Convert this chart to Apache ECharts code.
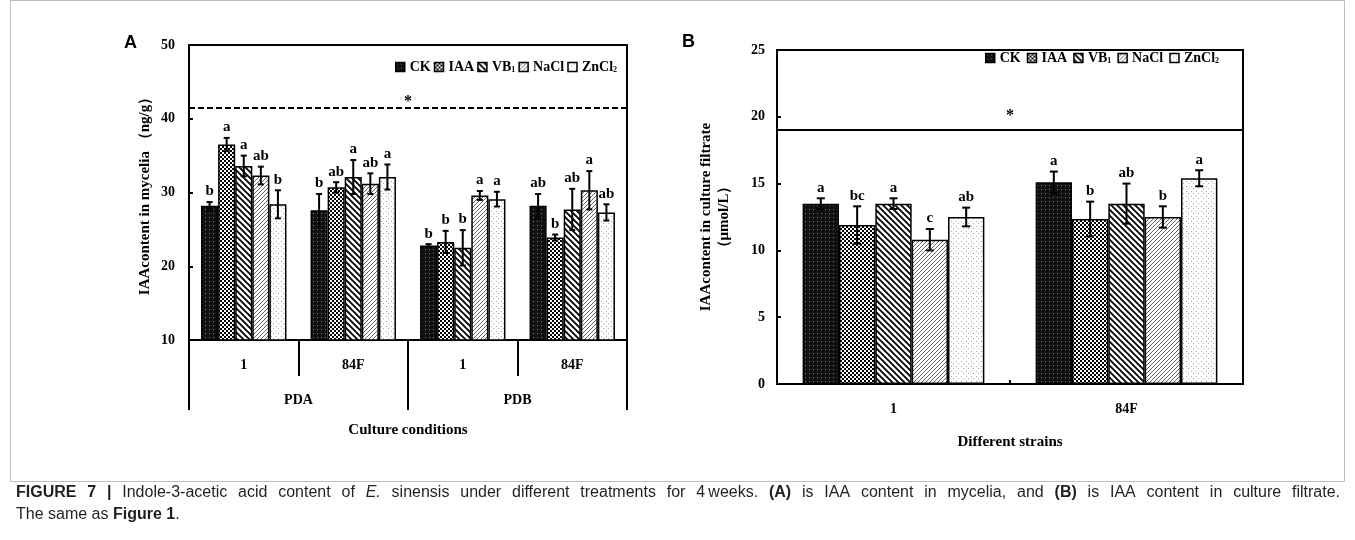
<!DOCTYPE html>
<html><head><meta charset="utf-8">
<script src="https://cdn.jsdelivr.net/npm/echarts@6/dist/echarts.min.js"></script>
<style>html,body{margin:0;padding:0;background:#fff}#c{width:1355px;height:540px}</style>
</head><body><div id="c"></div>
<script>
// ---------- data ----------
const seriesNames = ['CK', 'IAA', 'VB1', 'NaCl', 'ZnCl2'];
const catsA = ['1', '84F', '1', '84F'];
const groupsA = ['PDA', 'PDB'];
const catsB = ['1', '84F'];

const A_CK = [28.2, 27.6, 22.8, 28.2];
const A_IAA = [36.5, 30.7, 23.3, 23.9];
const A_VB1 = [33.6, 32.1, 22.5, 27.7];
const A_NaCl = [32.3, 31.2, 29.6, 30.3];
const A_ZnCl2 = [28.4, 32.1, 29.1, 27.3];
const A_errCK = [0.5, 2.2, 0.2, 1.6];
const A_errIAA = [0.9, 0.7, 1.5, 0.4];
const A_errVB1 = [1.4, 2.3, 2.4, 2.8];
const A_errNaCl = [1.2, 1.4, 0.6, 2.6];
const A_errZnCl2 = [1.9, 1.7, 1.0, 1.1];
const A_letCK = ['b', 'b', 'b', 'ab'];
const A_letIAA = ['a', 'ab', 'b', 'b'];
const A_letVB1 = ['a', 'a', 'b', 'ab'];
const A_letNaCl = ['ab', 'ab', 'a', 'a'];
const A_letZnCl2 = ['b', 'a', 'a', 'ab'];
const A_refLine = 41.5;

const B_CK = [13.5, 15.1];
const B_IAA = [11.9, 12.35];
const B_VB1 = [13.5, 13.5];
const B_NaCl = [10.8, 12.5];
const B_ZnCl2 = [12.5, 15.4];
const B_errCK = [0.4, 0.8];
const B_errIAA = [1.4, 1.3];
const B_errVB1 = [0.4, 1.5];
const B_errNaCl = [0.8, 0.8];
const B_errZnCl2 = [0.7, 0.6];
const B_letCK = ['a', 'a'];
const B_letIAA = ['bc', 'b'];
const B_letVB1 = ['a', 'ab'];
const B_letNaCl = ['c', 'b'];
const B_letZnCl2 = ['ab', 'a'];
const B_refLine = 19;

const captionLine1 = [['FIGURE', 'b'], ['7', 'b'], ['|', 'b'], ['Indole-3-acetic', 'n'], ['acid', 'n'], ['content', 'n'], ['of', 'n'], ['E.', 'i'], ['sinensis', 'n'], ['under', 'n'], ['different', 'n'], ['treatments', 'n'], ['for', 'n'], ['4\u2009weeks.', 'n'], ['(A)', 'b'], ['is', 'n'], ['IAA', 'n'], ['content', 'n'], ['in', 'n'], ['mycelia,', 'n'], ['and', 'n'], ['(B)', 'b'], ['is', 'n'], ['IAA', 'n'], ['content', 'n'], ['in', 'n'], ['culture', 'n'], ['filtrate.', 'n']];
const captionLine2 = 'The same as {b|Figure 1}.';

// ---------- patterns ----------
function pat(kind) {
  const c = document.createElement('canvas');
  let s = 4;
  if (kind === 'VB1') s = 6;
  if (kind === 'ZnCl2') s = 5;
  c.width = s; c.height = s;
  const g = c.getContext('2d');
  g.fillStyle = '#fff'; g.fillRect(0, 0, s, s);
  if (kind === 'CK') {
    g.fillStyle = '#111'; g.fillRect(0, 0, s, s);
    g.fillStyle = '#777'; g.fillRect(1, 1, 1, 1);
  } else if (kind === 'IAA') {
    g.fillStyle = '#000'; g.fillRect(0, 0, 2, 2); g.fillRect(2, 2, 2, 2);
  } else if (kind === 'VB1') {
    g.strokeStyle = '#000'; g.lineWidth = 1.8;
    g.beginPath();
    g.moveTo(-1, -1); g.lineTo(s + 1, s + 1);
    g.moveTo(-1, s - 1); g.lineTo(1, s + 1);
    g.moveTo(s - 1, -1); g.lineTo(s + 1, 1);
    g.stroke();
  } else if (kind === 'NaCl') {
    g.strokeStyle = '#666'; g.lineWidth = 1;
    g.beginPath();
    g.moveTo(-1, s + 1); g.lineTo(s + 1, -1);
    g.moveTo(-1, 1); g.lineTo(1, -1);
    g.moveTo(s - 1, s + 1); g.lineTo(s + 1, s - 1);
    g.stroke();
  } else if (kind === 'ZnCl2') {
    g.fillStyle = '#aaa'; g.fillRect(1, 1, 1, 1); g.fillRect(3, 3, 1, 1);
  }
  return { image: c, repeat: 'repeat' };
}
const patterns = seriesNames.map(pat);

const SERIF = '"Liberation Serif", "Times New Roman", serif';
const SANS = '"Liberation Sans", Arial, sans-serif';
const CAT_GAP = 0.22;

const valsA = [A_CK, A_IAA, A_VB1, A_NaCl, A_ZnCl2];
const errsA = [A_errCK, A_errIAA, A_errVB1, A_errNaCl, A_errZnCl2];
const letsA = [A_letCK, A_letIAA, A_letVB1, A_letNaCl, A_letZnCl2];
const valsB = [B_CK, B_IAA, B_VB1, B_NaCl, B_ZnCl2];
const errsB = [B_errCK, B_errIAA, B_errVB1, B_errNaCl, B_errZnCl2];
const letsB = [B_letCK, B_letIAA, B_letVB1, B_letNaCl, B_letZnCl2];

function errItems(vals, errs, lets) {
  const items = [];
  vals.forEach((arr, si) => arr.forEach((v, ci) => {
    items.push({ value: [ci, v, si, errs[si][ci]], letter: lets[si][ci] });
  }));
  return items;
}
const errA = errItems(valsA, errsA, letsA);
const errB = errItems(valsB, errsB, letsB);

function makeRender(items, cap) {
  return function (params, api) {
    const it = items[params.dataIndex];
    const ci = it.value[0], v = it.value[1], si = it.value[2], e = it.value[3];
    const band = api.size([1, 0])[0];
    const bw = band * (1 - CAT_GAP) / 5;
    const c = api.coord([ci, v]);
    const x = c[0] + (si - 2) * bw;
    const yt = api.coord([ci, v + e])[1];
    const yb = api.coord([ci, v - e])[1];
    const st = { stroke: '#000', lineWidth: 2 };
    return {
      type: 'group',
      children: [
        { type: 'line', shape: { x1: x, y1: yt, x2: x, y2: yb }, style: st },
        { type: 'line', shape: { x1: x - cap, y1: yt, x2: x + cap, y2: yt }, style: st },
        { type: 'line', shape: { x1: x - cap, y1: yb, x2: x + cap, y2: yb }, style: st },
        { type: 'text', x: x, y: yt - 3, style: { text: it.letter, fill: '#000', font: 'bold 15px ' + SERIF, textAlign: 'center', textVerticalAlign: 'bottom' } }
      ]
    };
  };
}

function legendFmt(n) {
  if (n === 'VB1') return 'VB{s|1}';
  if (n === 'ZnCl2') return 'ZnCl{s|2}';
  return n;
}
const legendText = {
  fontFamily: SERIF, fontWeight: 'bold', fontSize: 14, color: '#000',
  rich: { s: { fontFamily: SERIF, fontSize: 8, fontWeight: 'bold', verticalAlign: 'bottom', padding: [6, 0, 0, 0] } }
};

// justified caption line
const CAP_SIZE = 16;
const mctx = document.createElement('canvas').getContext('2d');
function measure(t, st) {
  mctx.font = (st === 'i' ? 'italic ' : '') + (st === 'b' ? 'bold ' : '') + CAP_SIZE + 'px ' + SANS;
  return mctx.measureText(t).width;
}
const CAP_WIDTH = 1324;
const wordsW = captionLine1.reduce((s, w) => s + measure(w[0], w[1]), 0);
const spW = Math.max(4, (CAP_WIDTH - wordsW) / (captionLine1.length - 1));
const captionText1 = captionLine1.map(w => '{' + w[1] + '|' + w[0] + '}').join('{sp|\u00a0}');
const capRich = {
  b: { fontWeight: 'bold', fontFamily: SANS, fontSize: CAP_SIZE, fill: '#231f20' },
  i: { fontStyle: 'italic', fontFamily: SANS, fontSize: CAP_SIZE, fill: '#231f20' },
  n: { fontFamily: SANS, fontSize: CAP_SIZE, fill: '#231f20' },
  sp: { fontFamily: SANS, fontSize: CAP_SIZE, width: spW }
};

const tickLabel = { fontFamily: SERIF, fontWeight: 'bold', fontSize: 14, color: '#000' };
const nameStyle = { fontFamily: SERIF, fontWeight: 'bold', fontSize: 15, color: '#000' };
const blackLine = { color: '#000', width: 2 };

const series = [];
seriesNames.forEach((n, si) => {
  const sa = {
    name: n, type: 'bar', xAxisIndex: 0, yAxisIndex: 0, data: valsA[si],
    barGap: '0%', barCategoryGap: (CAT_GAP * 100) + '%',
    itemStyle: { color: patterns[si], borderColor: '#000', borderWidth: 1.5 }
  };
  const sb = {
    name: n, type: 'bar', xAxisIndex: 2, yAxisIndex: 1, data: valsB[si],
    barGap: '0%', barCategoryGap: (CAT_GAP * 100) + '%',
    itemStyle: { color: patterns[si], borderColor: '#000', borderWidth: 1.5 }
  };
  if (si === 0) {
    sa.markLine = {
      silent: true, symbol: 'none',
      lineStyle: { type: [6, 3], color: '#000', width: 2 },
      label: { formatter: '*', position: 'insideMiddleTop', fontFamily: SERIF, fontWeight: 'bold', fontSize: 16, color: '#000', distance: -2 },
      data: [{ yAxis: A_refLine }]
    };
    sb.markLine = {
      silent: true, symbol: 'none',
      lineStyle: { type: 'solid', color: '#000', width: 2 },
      label: { formatter: '*', position: 'insideMiddleTop', fontFamily: SERIF, fontWeight: 'bold', fontSize: 16, color: '#000', distance: 6 },
      data: [{ yAxis: B_refLine }]
    };
  }
  series.push(sa, sb);
});
series.push({ type: 'custom', xAxisIndex: 0, yAxisIndex: 0, z: 5, renderItem: makeRender(errA, 3), data: errA.map(d => d.value) });
series.push({ type: 'custom', xAxisIndex: 2, yAxisIndex: 1, z: 5, renderItem: makeRender(errB, 4), data: errB.map(d => d.value) });

const option = {
  animation: false,
  backgroundColor: '#fff',
  grid: [
    { left: 189, top: 45, width: 438, height: 295, show: true, borderColor: '#000', borderWidth: 2, outerBoundsMode: 'none', containLabel: false },
    { left: 777, top: 50, width: 466, height: 334, show: true, borderColor: '#000', borderWidth: 2, outerBoundsMode: 'none', containLabel: false }
  ],
  legend: [
    { data: seriesNames, left: 390, top: 55, itemWidth: 9, itemHeight: 9, itemGap: 3, icon: 'rect', formatter: legendFmt, textStyle: legendText, selectedMode: false,
      itemStyle: { borderColor: '#000', borderWidth: 1.5 } },
    { data: seriesNames, left: 980, top: 46, itemWidth: 9, itemHeight: 9, itemGap: 6, icon: 'rect', formatter: legendFmt, textStyle: legendText, selectedMode: false,
      itemStyle: { borderColor: '#000', borderWidth: 1.5 } }
  ],
  xAxis: [
    { type: 'category', gridIndex: 0, data: catsA, position: 'bottom',
      axisLine: { lineStyle: blackLine },
      axisTick: { show: true, interval: 0, length: 36, lineStyle: blackLine },
      axisLabel: { ...tickLabel, interval: 0, margin: 18 } },
    { type: 'category', gridIndex: 0, data: groupsA, position: 'bottom',
      axisLine: { show: false },
      axisTick: { show: true, interval: 0, length: 70, lineStyle: blackLine },
      axisLabel: { ...tickLabel, interval: 0, margin: 53 },
      name: 'Culture conditions', nameLocation: 'middle', nameGap: 83, nameTextStyle: nameStyle },
    { type: 'category', gridIndex: 1, data: catsB, position: 'bottom',
      axisLine: { lineStyle: blackLine },
      axisTick: { show: true, inside: true, interval: 0, length: 4, lineStyle: blackLine },
      axisLabel: { ...tickLabel, interval: 0, margin: 18 },
      name: 'Different strains', nameLocation: 'middle', nameGap: 51, nameTextStyle: nameStyle }
  ],
  yAxis: [
    { type: 'value', gridIndex: 0, min: 10, max: 50, interval: 10,
      axisLine: { show: true, lineStyle: blackLine },
      axisTick: { show: true, inside: true, length: 4, lineStyle: blackLine },
      splitLine: { show: false },
      axisLabel: { ...tickLabel, margin: 14 },
      name: 'IAAcontent in mycelia （ng/g）', nameLocation: 'middle', nameGap: 36, nameTextStyle: nameStyle },
    { type: 'value', gridIndex: 1, min: 0, max: 25, interval: 5,
      axisLine: { show: true, lineStyle: blackLine },
      axisTick: { show: true, inside: true, length: 4, lineStyle: blackLine },
      splitLine: { show: false },
      axisLabel: { ...tickLabel, margin: 12 },
      name: 'IAAcontent in culture filtrate\n（μmol/L）', nameLocation: 'middle', nameGap: 44,
      nameTextStyle: { ...nameStyle, lineHeight: 18, align: 'center' } }
  ],
  graphic: [
    { type: 'rect', silent: true, z: -1, shape: { x: 10.5, y: 0.5, width: 1334, height: 481 }, style: { fill: 'none', stroke: '#bdbdbd', lineWidth: 1 } },
    { type: 'text', left: 124, top: 34, style: { text: 'A', font: 'bold 18px ' + SANS, fill: '#000' } },
    { type: 'text', left: 682, top: 33, style: { text: 'B', font: 'bold 18px ' + SANS, fill: '#000' } },
    { type: 'text', left: 16, top: 485, style: { text: captionText1, font: CAP_SIZE + 'px ' + SANS, fill: '#231f20', rich: capRich } },
    { type: 'text', left: 16, top: 507, style: {
        text: captionLine2, font: CAP_SIZE + 'px ' + SANS, fill: '#231f20',
        rich: { b: { fontWeight: 'bold', fontFamily: SANS, fontSize: CAP_SIZE, fill: '#231f20' } } } }
  ],
  series: series
};

const chart = echarts.init(document.getElementById('c'), null, { renderer: 'canvas' });
chart.setOption(option);
</script>
</body></html>
